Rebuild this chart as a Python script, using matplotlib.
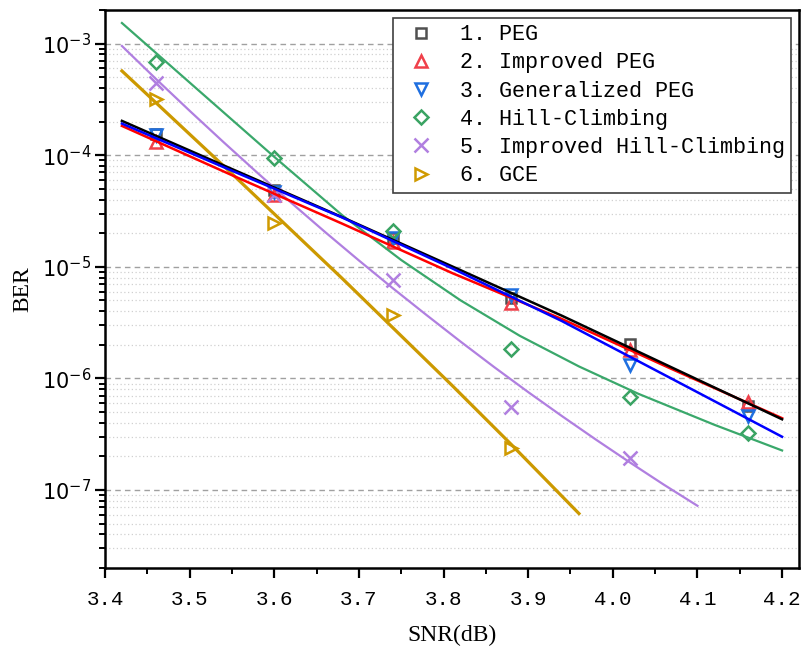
import matplotlib
matplotlib.use("Agg")
import matplotlib.pyplot as plt
import numpy as np
from matplotlib.ticker import LogLocator, MultipleLocator, NullFormatter

plt.rcParams['mathtext.fontset'] = 'stix'

# measured points
snr = [3.46, 3.60, 3.74, 3.88, 4.02, 4.16]
ber_peg = [1.56e-4, 4.86e-5, 1.80e-5, 5.2e-6, 2.03e-6, 5.7e-7]
ber_ipeg = [1.32e-4, 4.38e-5, 1.67e-5, 4.7e-6, 1.79e-6, 6.18e-7]
ber_gpeg = [1.51e-4, 4.7e-5, 1.83e-5, 5.58e-6, 1.32e-6, 4.61e-7]
ber_hc = [6.84e-4, 9.53e-5, 2.09e-5, 1.82e-6, 6.85e-7, 3.22e-7]
snr_ihc = [3.46, 3.60, 3.74, 3.88, 4.02]
ber_ihc = [4.48e-4, 4.4e-5, 7.6e-6, 5.58e-7, 1.95e-7]
snr_gce = [3.46, 3.60, 3.74, 3.88]
ber_gce = [3.22e-4, 2.45e-5, 3.7e-6, 2.37e-7]

# fitted curves
fit_x = [3.42, 3.55, 3.68, 3.81, 3.94, 4.07, 4.20]
fit_peg = [2.03e-4, 7.52e-5, 2.79e-5, 1.01e-5, 3.64e-6, 1.25e-6, 4.3e-7]
fit_gpeg = [1.92e-4, 7.26e-5, 2.77e-5, 9.7e-6, 3.26e-6, 9.9e-7, 3.0e-7]
fit_ipeg = [1.83e-4, 6.62e-5, 2.44e-5, 8.8e-6, 3.4e-6, 1.21e-6, 4.4e-7]
fit_x_hc = [3.42, 3.51, 3.60, 3.68, 3.75, 3.82, 3.89, 3.96, 4.03, 4.12, 4.20]
fit_hc = [1.529e-3, 3.84e-4, 9.66e-5, 2.91e-5, 1.15e-5, 5.01e-6,
          2.41e-6, 1.28e-6, 7.29e-7, 3.84e-7, 2.26e-7]
fit_x_ihc = [3.42, 3.46, 3.50, 3.54, 3.58, 3.62, 3.66, 3.70, 3.74,
             3.78, 3.82, 3.86, 3.90, 3.94, 3.98, 4.02, 4.06, 4.10]
fit_ihc = [9.52e-4, 4.84e-4, 2.50e-4, 1.31e-4, 6.96e-5, 3.75e-5, 2.05e-5, 1.14e-5, 6.43e-6,
           3.69e-6, 2.14e-6, 1.26e-6, 7.54e-7, 4.59e-7, 2.83e-7, 1.77e-7, 1.12e-7, 7.22e-8]
fit_x_gce = [3.42, 3.55, 3.68, 3.81, 3.88, 3.96]
fit_gce = [5.69e-4, 6.82e-5, 7.9e-6, 8.66e-7, 2.56e-7, 6.15e-8]

labels = ["1. PEG", "2. Improved PEG", "3. Generalized PEG",
          "4. Hill-Climbing", "5. Improved Hill-Climbing", "6. GCE"]

fig = plt.figure(figsize=(8.01, 6.51), dpi=100)
ax = fig.add_axes([105/801, 83/651, 694/801, 558/651])

ms = 8.5
mew = 1.8
# markers (legend handles)
ax.plot(snr, ber_peg, ls='none', marker='s', ms=7, mew=mew, mfc='none', mec='#505050', label=labels[0])
ax.plot(snr, ber_ipeg, ls='none', marker='^', ms=ms, mew=mew, mfc='none', mec='#f0404a', label=labels[1])
ax.plot(snr, ber_gpeg, ls='none', marker='v', ms=ms, mew=mew, mfc='none', mec='#1f6fe0', label=labels[2])
ax.plot(snr, ber_hc, ls='none', marker='D', ms=7.5, mew=mew, mfc='none', mec='#3aa363', label=labels[3])
ax.plot(snr_ihc, ber_ihc, ls='none', marker='x', ms=10, mew=mew, color='#b07fe0', label=labels[4])
ax.plot(snr_gce, ber_gce, ls='none', marker='>', ms=ms, mew=mew, mfc='none', mec='#d09a00', label=labels[5])

# fitted lines
ax.plot(fit_x_hc, fit_hc, color='#3aa86b', lw=1.6)
ax.plot(fit_x_ihc, fit_ihc, color='#b07fe0', lw=1.6)
ax.plot(fit_x_gce, fit_gce, color='#cc9900', lw=2.3)
ax.plot(fit_x, fit_ipeg, color='#ff0000', lw=1.8)
ax.plot(fit_x, fit_peg, color='#000000', lw=1.8)
ax.plot(fit_x, fit_gpeg, color='#0000ff', lw=1.8)

ax.set_yscale('log')
ax.set_xlim(3.4, 4.22)
ax.set_ylim(2e-8, 2e-3)

ax.xaxis.set_minor_locator(MultipleLocator(0.05))
xt = np.arange(3.4, 4.21, 0.1)
ax.set_xticks(xt)
ax.set_xticklabels(["%.1f" % v for v in xt])
ax.yaxis.set_major_locator(LogLocator(base=10, numticks=12))
ax.yaxis.set_minor_locator(LogLocator(base=10, subs=np.arange(2, 10), numticks=12))
ax.yaxis.set_minor_formatter(NullFormatter())

ax.tick_params(which='major', direction='out', length=7, width=1.6, top=False, right=False)
ax.tick_params(which='minor', direction='out', length=4, width=1.4, top=False, right=False)
ax.tick_params(axis='y', which='major', labelsize=15, pad=3)
ax.tick_params(axis='x', which='major', labelsize=15, pad=9)
for t in ax.get_xticklabels():
    t.set_fontfamily('Liberation Mono')

for s in ax.spines.values():
    s.set_linewidth(1.8)

ax.grid(True, which='major', axis='y', color='#a0a0a0', ls=(0, (4, 3)), lw=1.0)
ax.grid(True, which='minor', axis='y', color='#d0d0d0', ls=(0, (1, 2)), lw=0.9)
ax.set_axisbelow(True)

ax.set_xlabel("SNR(dB)", fontsize=17, fontfamily='Liberation Serif', labelpad=11)
ax.set_ylabel("BER", fontsize=17, fontfamily='Liberation Serif', labelpad=6)

leg = ax.legend(loc='upper right', prop={'family': 'Liberation Mono', 'size': 15.7},
                frameon=True, fancybox=False, framealpha=1, edgecolor='#404040',
                handlelength=1.9, handletextpad=0.85, labelspacing=0.33,
                borderpad=0.3, borderaxespad=0.35)
leg.get_frame().set_linewidth(1.2)

fig.savefig("out.png", dpi=100)
